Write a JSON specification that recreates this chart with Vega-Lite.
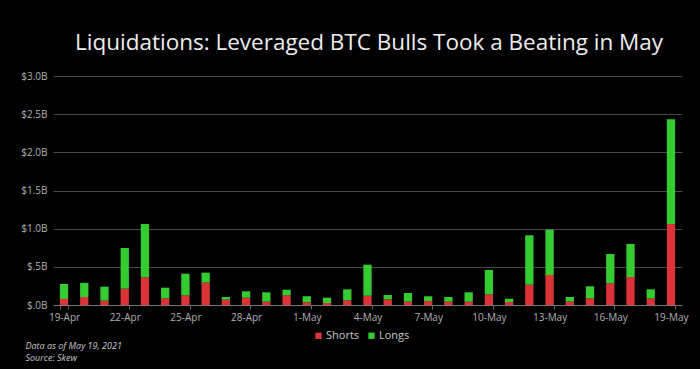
{
  "$schema": "https://vega.github.io/schema/vega-lite/v6.json",
  "width": 629,
  "height": 229,
  "autosize": {"type": "none"},
  "padding": {"left": 53, "top": 76, "right": 18, "bottom": 64},
  "background": "#000000",
  "title": {
    "text": "Liquidations: Leveraged BTC Bulls Took a Beating in May",
    "anchor": "start",
    "frame": "group",
    "dx": 22,
    "offset": 17,
    "font": "Open Sans",
    "fontSize": 22.5,
    "fontWeight": "normal",
    "color": "#ededed"
  },
  "data": {
    "values": [
      {"date": "19-Apr", "Shorts": 0.079, "Longs": 0.196},
      {"date": "20-Apr", "Shorts": 0.105, "Longs": 0.185},
      {"date": "21-Apr", "Shorts": 0.057, "Longs": 0.183},
      {"date": "22-Apr", "Shorts": 0.214, "Longs": 0.533},
      {"date": "23-Apr", "Shorts": 0.362, "Longs": 0.699},
      {"date": "24-Apr", "Shorts": 0.087, "Longs": 0.140},
      {"date": "25-Apr", "Shorts": 0.127, "Longs": 0.283},
      {"date": "26-Apr", "Shorts": 0.293, "Longs": 0.131},
      {"date": "27-Apr", "Shorts": 0.070, "Longs": 0.035},
      {"date": "28-Apr", "Shorts": 0.096, "Longs": 0.083},
      {"date": "29-Apr", "Shorts": 0.044, "Longs": 0.122},
      {"date": "30-Apr", "Shorts": 0.127, "Longs": 0.073},
      {"date": "1-May", "Shorts": 0.035, "Longs": 0.079},
      {"date": "2-May", "Shorts": 0.026, "Longs": 0.070},
      {"date": "3-May", "Shorts": 0.061, "Longs": 0.144},
      {"date": "4-May", "Shorts": 0.122, "Longs": 0.406},
      {"date": "5-May", "Shorts": 0.074, "Longs": 0.057},
      {"date": "6-May", "Shorts": 0.044, "Longs": 0.113},
      {"date": "7-May", "Shorts": 0.052, "Longs": 0.062},
      {"date": "8-May", "Shorts": 0.044, "Longs": 0.061},
      {"date": "9-May", "Shorts": 0.044, "Longs": 0.122},
      {"date": "10-May", "Shorts": 0.140, "Longs": 0.319},
      {"date": "11-May", "Shorts": 0.039, "Longs": 0.044},
      {"date": "12-May", "Shorts": 0.266, "Longs": 0.647},
      {"date": "13-May", "Shorts": 0.393, "Longs": 0.594},
      {"date": "14-May", "Shorts": 0.044, "Longs": 0.061},
      {"date": "15-May", "Shorts": 0.087, "Longs": 0.158},
      {"date": "16-May", "Shorts": 0.284, "Longs": 0.384},
      {"date": "17-May", "Shorts": 0.367, "Longs": 0.432},
      {"date": "18-May", "Shorts": 0.087, "Longs": 0.118},
      {"date": "19-May", "Shorts": 1.061, "Longs": 1.371}
    ]
  },
  "transform": [
    {"fold": ["Shorts", "Longs"], "as": ["type", "value"]}
  ],
  "mark": {"type": "bar"},
  "encoding": {
    "x": {
      "field": "date",
      "type": "ordinal",
      "sort": null,
      "scale": {"paddingInner": 0.59, "paddingOuter": 0.34},
      "axis": {
        "values": ["19-Apr", "22-Apr", "25-Apr", "28-Apr", "1-May", "4-May", "7-May", "10-May", "13-May", "16-May", "19-May"],
        "labelAngle": 0,
        "labelFont": "Open Sans",
        "labelFontSize": 10,
        "labelColor": "#b0b0b0",
        "labelPadding": 3,
        "tickBand": "extent",
        "tickSize": 4,
        "tickColor": "#666666",
        "domainColor": "#777777",
        "title": ["Data as of May 19, 2021", "Source: Skew"],
        "titleFont": "Open Sans",
        "titleFontSize": 9,
        "titleFontStyle": "italic",
        "titleFontWeight": "normal",
        "titleColor": "#c8c8c8",
        "titleAnchor": "start",
        "titleAlign": "left",
        "titleBaseline": "top",
        "titleLineHeight": 12,
        "titleX": -28,
        "titleY": 36
      }
    },
    "y": {
      "field": "value",
      "type": "quantitative",
      "stack": "zero",
      "scale": {"domain": [0, 3], "nice": false},
      "axis": {
        "values": [0, 0.5, 1, 1.5, 2, 2.5, 3],
        "labelExpr": "'$' + (datum.value < 1 ? substring(format(datum.value, '.1f'), 1) : format(datum.value, '.1f')) + 'B'",
        "labelFont": "Open Sans",
        "labelFontSize": 10,
        "labelColor": "#b0b0b0",
        "labelPadding": 6,
        "ticks": false,
        "domain": false,
        "grid": true,
        "gridColor": "#4a4a4a",
        "gridWidth": 1,
        "title": null
      }
    },
    "color": {
      "field": "type",
      "type": "nominal",
      "scale": {"domain": ["Shorts", "Longs"], "range": ["#dc3338", "#35cc32"]},
      "legend": {
        "title": null,
        "orient": "none",
        "direction": "horizontal",
        "legendX": 260,
        "legendY": 254,
        "symbolType": "square",
        "symbolSize": 40,
        "columnPadding": 6,
        "labelFont": "Open Sans",
        "labelFontSize": 11,
        "labelColor": "#c8c8c8",
        "labelOffset": 2
      }
    },
    "order": {"field": "type", "sort": "descending"}
  },
  "config": {
    "view": {"stroke": null}
  }
}
